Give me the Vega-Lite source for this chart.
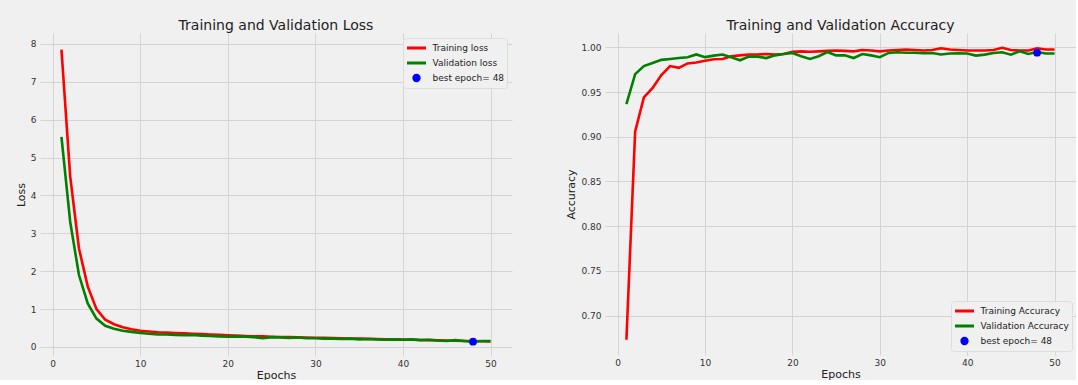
{
  "$schema": "https://vega.github.io/schema/vega-lite/v6.json",
  "background": "#f0f0f0",
  "padding": {"left": 15, "top": 18, "right": 0, "bottom": 0},
  "spacing": 53,
  "config": {
    "font": "DejaVu Sans",
    "view": {"stroke": null},
    "axis": {"grid": true, "gridColor": "#d4d4d4", "gridWidth": 1, "domain": false, "ticks": false, "labelFontSize": 9, "labelColor": "#333333", "labelPadding": 4, "titleFontSize": 11, "titleFontWeight": "normal", "titleColor": "#222222", "titlePadding": 4},
    "axisX": {"titlePadding": 1, "labelPadding": 3},
    "title": {"fontSize": 14, "fontWeight": "normal", "color": "#222222", "frame": "group", "offset": 0.01},
    "legend": {"labelFontSize": 9, "labelColor": "#222222", "fillColor": "#f0f0f0", "strokeColor": "#dddddd", "cornerRadius": 3, "padding": 2.5, "offset": 5, "rowPadding": 0, "labelOffset": 5, "clipHeight": 15, "symbolSize": 360, "symbolStrokeWidth": 3, "title": null}
  },
  "resolve": {"scale": {"color": "independent"}, "legend": {"color": "independent"}},
  "datasets": {
    "loss": [
      {"epoch":1,"series":"Training loss","value":7.85},{"epoch":2,"series":"Training loss","value":4.5},{"epoch":3,"series":"Training loss","value":2.6},{"epoch":4,"series":"Training loss","value":1.6},{"epoch":5,"series":"Training loss","value":1.0},{"epoch":6,"series":"Training loss","value":0.72},{"epoch":7,"series":"Training loss","value":0.6},{"epoch":8,"series":"Training loss","value":0.52},{"epoch":9,"series":"Training loss","value":0.47},{"epoch":10,"series":"Training loss","value":0.43},
      {"epoch":11,"series":"Training loss","value":0.41},{"epoch":12,"series":"Training loss","value":0.39},{"epoch":13,"series":"Training loss","value":0.38},{"epoch":14,"series":"Training loss","value":0.37},{"epoch":15,"series":"Training loss","value":0.36},{"epoch":16,"series":"Training loss","value":0.35},{"epoch":17,"series":"Training loss","value":0.34},{"epoch":18,"series":"Training loss","value":0.33},{"epoch":19,"series":"Training loss","value":0.32},{"epoch":20,"series":"Training loss","value":0.31},
      {"epoch":21,"series":"Training loss","value":0.3},{"epoch":22,"series":"Training loss","value":0.29},{"epoch":23,"series":"Training loss","value":0.285},{"epoch":24,"series":"Training loss","value":0.28},{"epoch":25,"series":"Training loss","value":0.27},{"epoch":26,"series":"Training loss","value":0.265},{"epoch":27,"series":"Training loss","value":0.26},{"epoch":28,"series":"Training loss","value":0.255},{"epoch":29,"series":"Training loss","value":0.25},{"epoch":30,"series":"Training loss","value":0.245},
      {"epoch":31,"series":"Training loss","value":0.24},{"epoch":32,"series":"Training loss","value":0.235},{"epoch":33,"series":"Training loss","value":0.23},{"epoch":34,"series":"Training loss","value":0.225},{"epoch":35,"series":"Training loss","value":0.22},{"epoch":36,"series":"Training loss","value":0.215},{"epoch":37,"series":"Training loss","value":0.21},{"epoch":38,"series":"Training loss","value":0.205},{"epoch":39,"series":"Training loss","value":0.2},{"epoch":40,"series":"Training loss","value":0.195},
      {"epoch":41,"series":"Training loss","value":0.19},{"epoch":42,"series":"Training loss","value":0.185},{"epoch":43,"series":"Training loss","value":0.18},{"epoch":44,"series":"Training loss","value":0.175},{"epoch":45,"series":"Training loss","value":0.17},{"epoch":46,"series":"Training loss","value":0.165},{"epoch":47,"series":"Training loss","value":0.16},{"epoch":48,"series":"Training loss","value":0.155},{"epoch":49,"series":"Training loss","value":0.15},{"epoch":50,"series":"Training loss","value":0.145},
      {"epoch":1,"series":"Validation loss","value":5.55},{"epoch":2,"series":"Validation loss","value":3.3},{"epoch":3,"series":"Validation loss","value":1.9},{"epoch":4,"series":"Validation loss","value":1.15},{"epoch":5,"series":"Validation loss","value":0.75},{"epoch":6,"series":"Validation loss","value":0.56},{"epoch":7,"series":"Validation loss","value":0.48},{"epoch":8,"series":"Validation loss","value":0.43},{"epoch":9,"series":"Validation loss","value":0.4},{"epoch":10,"series":"Validation loss","value":0.37},
      {"epoch":11,"series":"Validation loss","value":0.35},{"epoch":12,"series":"Validation loss","value":0.33},{"epoch":13,"series":"Validation loss","value":0.33},{"epoch":14,"series":"Validation loss","value":0.32},{"epoch":15,"series":"Validation loss","value":0.31},{"epoch":16,"series":"Validation loss","value":0.32},{"epoch":17,"series":"Validation loss","value":0.3},{"epoch":18,"series":"Validation loss","value":0.29},{"epoch":19,"series":"Validation loss","value":0.28},{"epoch":20,"series":"Validation loss","value":0.27},
      {"epoch":21,"series":"Validation loss","value":0.28},{"epoch":22,"series":"Validation loss","value":0.27},{"epoch":23,"series":"Validation loss","value":0.26},{"epoch":24,"series":"Validation loss","value":0.23},{"epoch":25,"series":"Validation loss","value":0.26},{"epoch":26,"series":"Validation loss","value":0.25},{"epoch":27,"series":"Validation loss","value":0.24},{"epoch":28,"series":"Validation loss","value":0.25},{"epoch":29,"series":"Validation loss","value":0.23},{"epoch":30,"series":"Validation loss","value":0.23},
      {"epoch":31,"series":"Validation loss","value":0.22},{"epoch":32,"series":"Validation loss","value":0.22},{"epoch":33,"series":"Validation loss","value":0.21},{"epoch":34,"series":"Validation loss","value":0.22},{"epoch":35,"series":"Validation loss","value":0.2},{"epoch":36,"series":"Validation loss","value":0.21},{"epoch":37,"series":"Validation loss","value":0.2},{"epoch":38,"series":"Validation loss","value":0.19},{"epoch":39,"series":"Validation loss","value":0.2},{"epoch":40,"series":"Validation loss","value":0.19},
      {"epoch":41,"series":"Validation loss","value":0.2},{"epoch":42,"series":"Validation loss","value":0.18},{"epoch":43,"series":"Validation loss","value":0.19},{"epoch":44,"series":"Validation loss","value":0.17},{"epoch":45,"series":"Validation loss","value":0.16},{"epoch":46,"series":"Validation loss","value":0.18},{"epoch":47,"series":"Validation loss","value":0.16},{"epoch":48,"series":"Validation loss","value":0.14},{"epoch":49,"series":"Validation loss","value":0.16},{"epoch":50,"series":"Validation loss","value":0.16},
      {"epoch":48,"series":"best epoch= 48","value":0.14}
    ],
    "acc": [
      {"epoch":1,"series":"Training Accuracy","value":0.673},{"epoch":2,"series":"Training Accuracy","value":0.906},{"epoch":3,"series":"Training Accuracy","value":0.944},{"epoch":4,"series":"Training Accuracy","value":0.9545},{"epoch":5,"series":"Training Accuracy","value":0.969},{"epoch":6,"series":"Training Accuracy","value":0.979},{"epoch":7,"series":"Training Accuracy","value":0.977},{"epoch":8,"series":"Training Accuracy","value":0.982},{"epoch":9,"series":"Training Accuracy","value":0.983},{"epoch":10,"series":"Training Accuracy","value":0.985},
      {"epoch":11,"series":"Training Accuracy","value":0.9866},{"epoch":12,"series":"Training Accuracy","value":0.987},{"epoch":13,"series":"Training Accuracy","value":0.99},{"epoch":14,"series":"Training Accuracy","value":0.991},{"epoch":15,"series":"Training Accuracy","value":0.992},{"epoch":16,"series":"Training Accuracy","value":0.992},{"epoch":17,"series":"Training Accuracy","value":0.9925},{"epoch":18,"series":"Training Accuracy","value":0.992},{"epoch":19,"series":"Training Accuracy","value":0.9925},{"epoch":20,"series":"Training Accuracy","value":0.995},
      {"epoch":21,"series":"Training Accuracy","value":0.9955},{"epoch":22,"series":"Training Accuracy","value":0.995},{"epoch":23,"series":"Training Accuracy","value":0.9955},{"epoch":24,"series":"Training Accuracy","value":0.996},{"epoch":25,"series":"Training Accuracy","value":0.9965},{"epoch":26,"series":"Training Accuracy","value":0.996},{"epoch":27,"series":"Training Accuracy","value":0.9955},{"epoch":28,"series":"Training Accuracy","value":0.997},{"epoch":29,"series":"Training Accuracy","value":0.9965},{"epoch":30,"series":"Training Accuracy","value":0.9955},
      {"epoch":31,"series":"Training Accuracy","value":0.9965},{"epoch":32,"series":"Training Accuracy","value":0.997},{"epoch":33,"series":"Training Accuracy","value":0.9975},{"epoch":34,"series":"Training Accuracy","value":0.997},{"epoch":35,"series":"Training Accuracy","value":0.9965},{"epoch":36,"series":"Training Accuracy","value":0.997},{"epoch":37,"series":"Training Accuracy","value":0.999},{"epoch":38,"series":"Training Accuracy","value":0.9975},{"epoch":39,"series":"Training Accuracy","value":0.997},{"epoch":40,"series":"Training Accuracy","value":0.9965},
      {"epoch":41,"series":"Training Accuracy","value":0.9965},{"epoch":42,"series":"Training Accuracy","value":0.9965},{"epoch":43,"series":"Training Accuracy","value":0.997},{"epoch":44,"series":"Training Accuracy","value":0.9995},{"epoch":45,"series":"Training Accuracy","value":0.997},{"epoch":46,"series":"Training Accuracy","value":0.9965},{"epoch":47,"series":"Training Accuracy","value":0.9965},{"epoch":48,"series":"Training Accuracy","value":0.999},{"epoch":49,"series":"Training Accuracy","value":0.9975},{"epoch":50,"series":"Training Accuracy","value":0.9975},
      {"epoch":1,"series":"Validation Accuracy","value":0.9366},{"epoch":2,"series":"Validation Accuracy","value":0.97},{"epoch":3,"series":"Validation Accuracy","value":0.979},{"epoch":4,"series":"Validation Accuracy","value":0.9825},{"epoch":5,"series":"Validation Accuracy","value":0.986},{"epoch":6,"series":"Validation Accuracy","value":0.987},{"epoch":7,"series":"Validation Accuracy","value":0.988},{"epoch":8,"series":"Validation Accuracy","value":0.9888},{"epoch":9,"series":"Validation Accuracy","value":0.992},{"epoch":10,"series":"Validation Accuracy","value":0.989},
      {"epoch":11,"series":"Validation Accuracy","value":0.9907},{"epoch":12,"series":"Validation Accuracy","value":0.992},{"epoch":13,"series":"Validation Accuracy","value":0.9888},{"epoch":14,"series":"Validation Accuracy","value":0.9855},{"epoch":15,"series":"Validation Accuracy","value":0.9896},{"epoch":16,"series":"Validation Accuracy","value":0.9896},{"epoch":17,"series":"Validation Accuracy","value":0.988},{"epoch":18,"series":"Validation Accuracy","value":0.991},{"epoch":19,"series":"Validation Accuracy","value":0.9925},{"epoch":20,"series":"Validation Accuracy","value":0.9937},
      {"epoch":21,"series":"Validation Accuracy","value":0.99},{"epoch":22,"series":"Validation Accuracy","value":0.987},{"epoch":23,"series":"Validation Accuracy","value":0.99},{"epoch":24,"series":"Validation Accuracy","value":0.9948},{"epoch":25,"series":"Validation Accuracy","value":0.991},{"epoch":26,"series":"Validation Accuracy","value":0.991},{"epoch":27,"series":"Validation Accuracy","value":0.988},{"epoch":28,"series":"Validation Accuracy","value":0.9925},{"epoch":29,"series":"Validation Accuracy","value":0.991},{"epoch":30,"series":"Validation Accuracy","value":0.989},
      {"epoch":31,"series":"Validation Accuracy","value":0.9937},{"epoch":32,"series":"Validation Accuracy","value":0.9944},{"epoch":33,"series":"Validation Accuracy","value":0.994},{"epoch":34,"series":"Validation Accuracy","value":0.994},{"epoch":35,"series":"Validation Accuracy","value":0.9933},{"epoch":36,"series":"Validation Accuracy","value":0.9937},{"epoch":37,"series":"Validation Accuracy","value":0.992},{"epoch":38,"series":"Validation Accuracy","value":0.993},{"epoch":39,"series":"Validation Accuracy","value":0.9933},{"epoch":40,"series":"Validation Accuracy","value":0.993},
      {"epoch":41,"series":"Validation Accuracy","value":0.9907},{"epoch":42,"series":"Validation Accuracy","value":0.9918},{"epoch":43,"series":"Validation Accuracy","value":0.9937},{"epoch":44,"series":"Validation Accuracy","value":0.9944},{"epoch":45,"series":"Validation Accuracy","value":0.9918},{"epoch":46,"series":"Validation Accuracy","value":0.9955},{"epoch":47,"series":"Validation Accuracy","value":0.9925},{"epoch":48,"series":"Validation Accuracy","value":0.9948},{"epoch":49,"series":"Validation Accuracy","value":0.993},{"epoch":50,"series":"Validation Accuracy","value":0.993},
      {"epoch":48,"series":"best epoch= 48","value":0.994}
    ]
  },
  "hconcat": [
    {
      "width": 472,
      "height": 323,
      "title": "Training and Validation Loss",
      "data": {"name": "loss"},
      "encoding": {
        "x": {"field": "epoch", "type": "quantitative", "title": "Epochs", "scale": {"domain": [-1.45, 52.45], "nice": false, "zero": false}, "axis": {"values": [0, 10, 20, 30, 40, 50]}},
        "y": {"field": "value", "type": "quantitative", "title": "Loss", "scale": {"domain": [-0.238, 8.29], "nice": false, "zero": false}, "axis": {"values": [0, 1, 2, 3, 4, 5, 6, 7, 8]}},
        "color": {"field": "series", "type": "nominal",
          "scale": {"domain": ["Training loss", "Validation loss", "best epoch= 48"], "range": ["#ff0000", "#008000", "#0000ff"]},
          "legend": {"orient": "top-right",
            "encode": {"symbols": {"update": {
              "shape": {"signal": "datum.value === 'best epoch= 48' ? 'M -0.28 0 A 0.28 0.28 0 1 0 0.28 0 A 0.28 0.28 0 1 0 -0.28 0 Z' : 'stroke'"},
              "fill": {"signal": "datum.value === 'best epoch= 48' ? '#0000ff' : 'transparent'"},
              "stroke": {"signal": "datum.value === 'best epoch= 48' ? '#0000ff' : (datum.value === 'Training loss' ? '#ff0000' : '#008000')"},
              "opacity": {"value": 1}
            }}}}}
      },
      "layer": [
        {"transform": [{"filter": "datum.series !== 'best epoch= 48'"}], "mark": {"type": "line", "strokeWidth": 2.6}},
        {"transform": [{"filter": "datum.series === 'best epoch= 48'"}], "mark": {"type": "point", "filled": true, "size": 60, "opacity": 1}}
      ]
    },
    {
      "width": 471,
      "height": 322,
      "title": "Training and Validation Accuracy",
      "data": {"name": "acc"},
      "encoding": {
        "x": {"field": "epoch", "type": "quantitative", "title": "Epochs", "scale": {"domain": [-1.45, 52.45], "nice": false, "zero": false}, "axis": {"values": [0, 10, 20, 30, 40, 50]}},
        "y": {"field": "value", "type": "quantitative", "title": "Accuracy", "scale": {"domain": [0.656, 1.016], "nice": false, "zero": false}, "axis": {"values": [0.7, 0.75, 0.8, 0.85, 0.9, 0.95, 1.0], "format": ".2f"}},
        "color": {"field": "series", "type": "nominal",
          "scale": {"domain": ["Training Accuracy", "Validation Accuracy", "best epoch= 48"], "range": ["#ff0000", "#008000", "#0000ff"]},
          "legend": {"orient": "bottom-right", "offset": 4,
            "encode": {"symbols": {"update": {
              "shape": {"signal": "datum.value === 'best epoch= 48' ? 'M -0.28 0 A 0.28 0.28 0 1 0 0.28 0 A 0.28 0.28 0 1 0 -0.28 0 Z' : 'stroke'"},
              "fill": {"signal": "datum.value === 'best epoch= 48' ? '#0000ff' : 'transparent'"},
              "stroke": {"signal": "datum.value === 'best epoch= 48' ? '#0000ff' : (datum.value === 'Training Accuracy' ? '#ff0000' : '#008000')"},
              "opacity": {"value": 1}
            }}}}}
      },
      "layer": [
        {"transform": [{"filter": "datum.series !== 'best epoch= 48'"}], "mark": {"type": "line", "strokeWidth": 2.6}},
        {"transform": [{"filter": "datum.series === 'best epoch= 48'"}], "mark": {"type": "point", "filled": true, "size": 60, "opacity": 1}}
      ]
    }
  ]
}
